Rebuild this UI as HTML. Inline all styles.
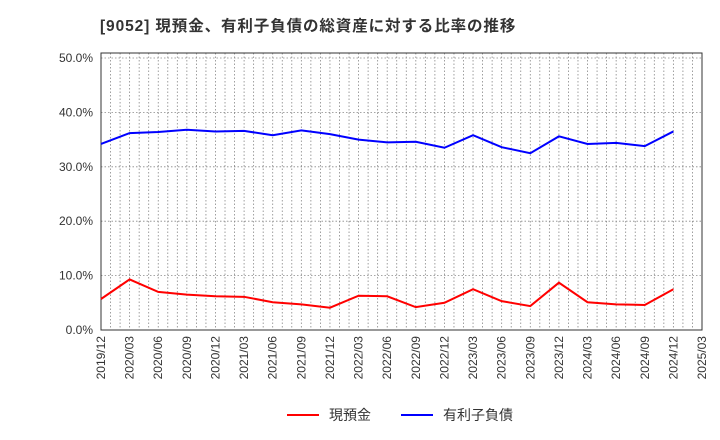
<!DOCTYPE html>
<html><head><meta charset="utf-8"><style>
body{margin:0;background:#fff;}
svg{display:block;font-family:"Liberation Sans","Noto Sans CJK JP",sans-serif;}
</style></head><body>
<svg id="c" width="720" height="440">
<text x="100" y="31" font-size="15.5" font-weight="bold" fill="#333" letter-spacing="0.9">[9052]  現預金、有利子負債の総資産に対する比率の推移</text>
</svg>
<script>
const categories=["2019/12","2020/03","2020/06","2020/09","2020/12","2021/03","2021/06","2021/09","2021/12","2022/03","2022/06","2022/09","2022/12","2023/03","2023/06","2023/09","2023/12","2024/03","2024/06","2024/09","2024/12","2025/03"];
const cashValues=[5.7,9.3,7.0,6.5,6.2,6.1,5.1,4.7,4.1,6.3,6.2,4.2,5.0,7.5,5.3,4.4,8.7,5.1,4.7,4.6,7.5];
const debtValues=[34.2,36.2,36.4,36.8,36.5,36.6,35.8,36.7,36.0,35.0,34.5,34.6,33.5,35.8,33.6,32.5,35.6,34.2,34.4,33.8,36.5];
const yTicks=[0,10,20,30,40,50];
const NS="http://www.w3.org/2000/svg";
const svg=document.getElementById('c');
const L=101,R=702,T=53,B=330,Y0=330,Y50=58;
const x=i=>L+(R-L)*i/(categories.length-1);
const xm=m=>L+(R-L)*m/((categories.length-1)*3);
const y=v=>Y0-(Y0-Y50)*v/50;
function mk(t,a){const e=document.createElementNS(NS,t);for(const k in a)e.setAttribute(k,a[k]);svg.appendChild(e);return e;}
for(let m=1;m<(categories.length-1)*3;m++){
 const g=mk('line',{x1:xm(m),x2:xm(m),y1:T,y2:B,stroke:'#888','stroke-width':0.8,'stroke-dasharray':'1.5,2'});
 
 
}
yTicks.forEach(v=>{
 if(v>0){const g=mk('line',{x1:L,x2:R,y1:y(v),y2:y(v),stroke:'#888','stroke-width':0.8,'stroke-dasharray':'1.5,2'});
 
 }
 const t=mk('text',{x:L-8,y:y(v)+4,'text-anchor':'end','font-size':12,fill:'#333'});
 t.textContent=v.toFixed(1)+'%';
 
 
});
const f=mk('rect',{x:L,y:T,width:R-L,height:B-T,fill:'none',stroke:'#333','stroke-width':1});


categories.forEach((c,i)=>{
 const t=mk('text',{x:0,y:0,'text-anchor':'end','font-size':12,fill:'#333',transform:`translate(${x(i)+4},${B+6}) rotate(-90)`});
 t.textContent=c;
 
 
});
function line(vals,col,name){
 const p=mk('polyline',{points:vals.map((v,i)=>x(i)+','+y(v)).join(' '),fill:'none',stroke:col,'stroke-width':2});
 
 
}
line(debtValues,'#0000ff','debt-ratio-line');
line(cashValues,'#ff0000','cash-ratio-line');
const leg=[['現預金','#ff0000',287],['有利子負債','#0000ff',401]];
leg.forEach(([n,c,lx])=>{
 const l=mk('line',{x1:lx,x2:lx+32,y1:415,y2:415,stroke:c,'stroke-width':2});
 
 
 const t=mk('text',{x:lx+42,y:420,'font-size':14,fill:'#333'});
 t.textContent=n;
 
 
});
</script>
</body></html>
